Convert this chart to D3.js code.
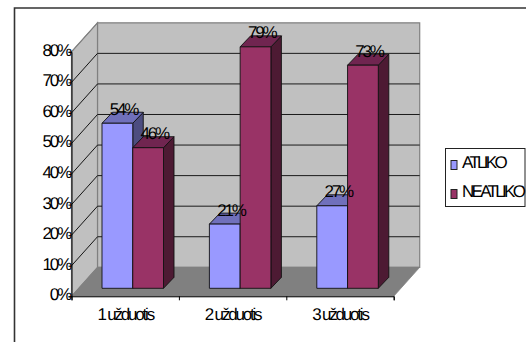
<!DOCTYPE html>
<html>
<head>
<meta charset="utf-8">
<script src="https://cdn.jsdelivr.net/npm/d3@7/dist/d3.min.js"></script>
<style>
html,body{margin:0;padding:0;background:#fff}
svg{display:block}
text{font-family:"Liberation Sans",Arial,sans-serif;fill:#000;font-size:17px;letter-spacing:-2.2px;text-rendering:geometricPrecision}
.legend-label{letter-spacing:-2.7px}
</style>
</head>
<body>
<svg id="chart" width="526" height="342"></svg>
<script>
// Task completion results per exercise
const categories = ["1 užduotis", "2 užduotis", "3 užduotis"];
const seriesNames = ["ATLIKO", "NEATLIKO"];
const atliko = [54, 21, 27];
const neatliko = [46, 79, 73];
const yTicks = [0, 10, 20, 30, 40, 50, 60, 70, 80];
const faceColors = ["#9999ff", "#993366"];
const topColors = ["#7070bb", "#702550"];
const sideColors = ["#4d4d80", "#4d1a33"];

const svg = d3.select("#chart");

// Front plane of the 3D box and the shift from front to back
const frontLeft = 71.5, frontRight = 393.7, frontBase = 296.3, frontTop = 51.8;
const depthX = 26, depthY = -29;

const y = d3.scaleLinear().domain([0, 80]).range([frontBase, frontTop]);
const xCat = d3.scaleBand().domain(categories).range([frontLeft, frontRight]);
const groupWidth = 61.5;
const xSeries = d3.scaleBand().domain(seriesNames).range([0, groupWidth]);

// Chart frame: open at the right and bottom edges of the page
svg.append("path")
  .attr("d", "M14.5,342V8H526")
  .attr("fill", "none").attr("stroke", "#333").attr("stroke-width", 1.6);

const poly = (pts, fill, stroke, sw) => svg.append("polygon")
  .attr("points", pts.map(p => p.join(",")).join(" "))
  .attr("fill", fill).attr("stroke", stroke).attr("stroke-width", sw);

// Walls and floor
const yb = v => y(v) + depthY;
poly([[frontLeft + depthX, yb(0)], [frontRight + depthX, yb(0)], [frontRight + depthX, yb(80)], [frontLeft + depthX, yb(80)]], "#c0c0c0", "#808080", 1.2);
poly([[frontLeft, y(0)], [frontLeft + depthX, yb(0)], [frontLeft + depthX, yb(80)], [frontLeft, y(80)]], "#c0c0c0", "#808080", 1.2);
poly([[frontLeft, y(0)], [frontRight, y(0)], [frontRight + depthX, yb(0)], [frontLeft + depthX, yb(0)]], "#808080", "#808080", 0.8);

// Gridlines run along the left wall and across the back wall
yTicks.filter(t => t > 0).forEach(t => {
  svg.append("path")
    .attr("d", `M${frontLeft},${y(t)}L${frontLeft + depthX},${yb(t)}`)
    .attr("fill", "none").attr("stroke", t === 80 ? "#808080" : "#000").attr("stroke-width", 0.9);
  if (t < 80) svg.append("path")
    .attr("d", `M${frontLeft + depthX},${yb(t)}H${frontRight + depthX}`)
    .attr("fill", "none").attr("stroke", "#1a1a1a").attr("stroke-width", 1);
});

// Vertical axis and category axis
const axisY = d3.axisLeft(y).tickValues(yTicks).tickSize(3).tickFormat(d => d + "%");
const gy = svg.append("g").attr("transform", `translate(${frontLeft},0)`).call(axisY);
gy.select(".domain").attr("stroke", "#000");
gy.selectAll("text").attr("x", -1.5).attr("y", 3.4).attr("dy", null).attr("text-anchor", "end");

const axisX = d3.axisBottom(d3.scaleLinear().domain([0, 3]).range([frontLeft, frontRight]))
  .tickValues([0, 1, 2, 3]).tickSize(4).tickFormat("");
svg.append("g").attr("transform", `translate(0,${frontBase})`).call(axisX);
categories.forEach(c => svg.append("text")
  .attr("x", xCat(c) + xCat.bandwidth() / 2)
  .attr("y", 319.5)
  .attr("text-anchor", "middle").text(c));

// Bars sit midway through the depth of the box
const barDX = 10.5, barDY = -11;
const barBase = frontBase - 8, groupShift = 30.5;
const h = v => y(0) - y(v);
const rows = categories.map((c, i) => seriesNames.map((s, k) => ({
  cat: c, s: k, value: (k === 0 ? atliko : neatliko)[i]
})));

const labels = [];
rows.forEach(row => row.forEach(d => {
  const x0 = xCat(d.cat) + groupShift + xSeries(seriesNames[d.s]);
  const x1 = x0 + xSeries.bandwidth();
  const yt = barBase - h(d.value);
  poly([[x1, barBase], [x1 + barDX, barBase + barDY], [x1 + barDX, yt + barDY], [x1, yt]], sideColors[d.s], "#111", 0.9);
  poly([[x0, yt], [x0 + barDX, yt + barDY], [x1 + barDX, yt + barDY], [x1, yt]], topColors[d.s], "#111", 0.9);
  poly([[x0, barBase], [x1, barBase], [x1, yt], [x0, yt]], faceColors[d.s], "#111", 0.9);
  labels.push({ x: x0 + 21.5, y: yt - 8.5, value: d.value });
}));

// Value labels are drawn last, over all of the bars
labels.forEach(l => svg.append("text")
  .attr("x", l.x).attr("y", l.y)
  .attr("text-anchor", "middle").text(l.value + "%"));

// Legend
const legend = svg.append("g");
legend.append("rect").attr("x", 445.5).attr("y", 148.5).attr("width", 79.5).attr("height", 58)
  .attr("fill", "#fff").attr("stroke", "#222").attr("stroke-width", 1);
seriesNames.forEach((s, i) => {
  const cy = 164.5 + i * 29;
  legend.append("rect").attr("x", 451).attr("y", cy - 4).attr("width", 6).attr("height", 9)
    .attr("fill", faceColors[i]).attr("stroke", "#222").attr("stroke-width", 1);
  legend.append("text").attr("class", "legend-label").attr("x", 462).attr("y", cy + 3).text(s);
});
</script>
</body>
</html>
